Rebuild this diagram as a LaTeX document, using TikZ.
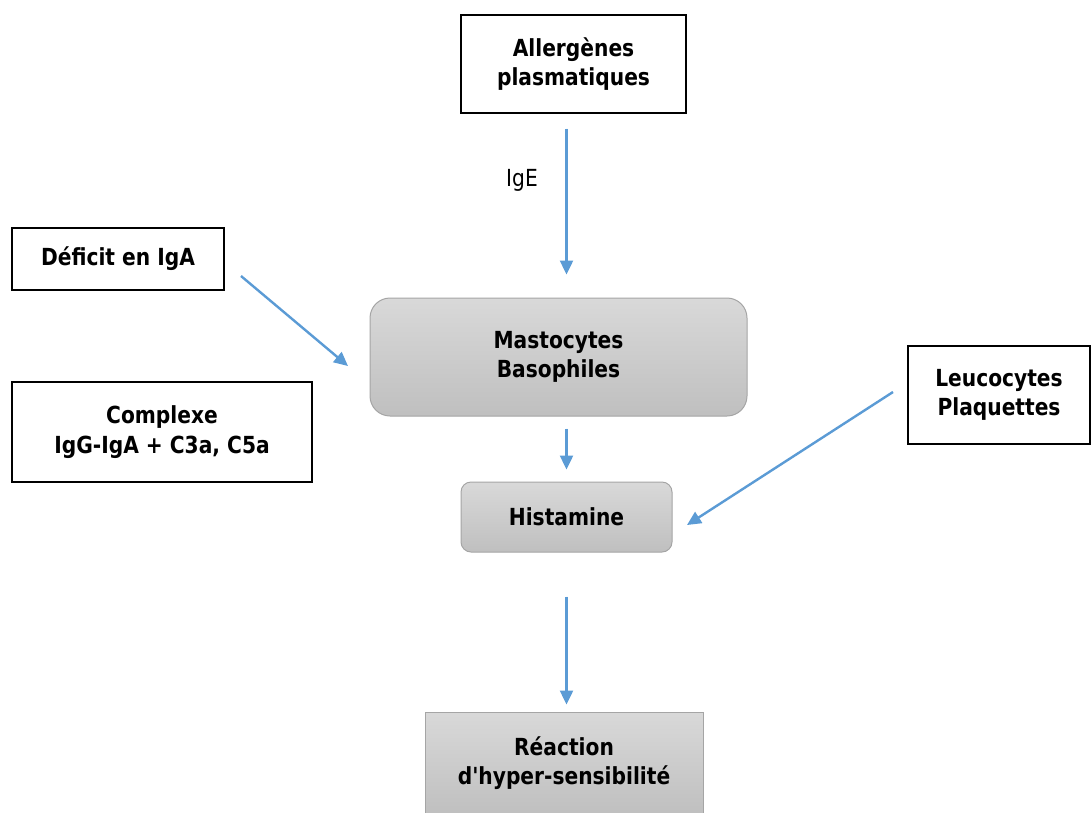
\documentclass[tikz,border=0pt]{standalone}
\usepackage{fontspec}
\setmainfont{DejaVu Sans}[FakeStretch=0.86,Ligatures=TeXOff]
\usetikzlibrary{arrows.meta,positioning,calc}
\definecolor{flowblue}{RGB}{91,155,213}
\definecolor{cellgray}{RGB}{165,165,165}

\begin{document}
\begin{tikzpicture}[x=1pt,y=-1pt,>={Triangle[length=14pt,width=13pt]},
  font=\fontsize{23.5}{29.5}\selectfont\bfseries,
  plainbox/.style={draw,line width=1.3pt,align=center,inner sep=0pt},
  cellbox/.style={draw=cellgray,line width=1pt,top color=gray!30,bottom color=gray!50,align=center,inner sep=0pt},
  flow/.style={->,draw=flowblue,fill=flowblue,line width=2.4pt}]
\useasboundingbox (0,0) rectangle (1091,812);
\clip (0,0) rectangle (1091,812);
% boxes
\node[plainbox,minimum width=225,minimum height=98] (allerg) at (573.5,64) {Allergènes\\plasmatiques};
\node[font=\fontsize{23.5}{29.5}\selectfont] (ige) at (522,180) {IgE};
\node[plainbox,minimum width=212,minimum height=62] (deficit) at (118,259) {Déficit en IgA};
\node[plainbox,minimum width=300,minimum height=100] (complexe) at (162,432) {Complexe\\IgG-IgA + C3a, C5a};
\node[cellbox,rounded corners=20pt,minimum width=377,minimum height=118] (masto) at (558.5,357) {Mastocytes\\Basophiles};
\node[cellbox,rounded corners=10pt,minimum width=211,minimum height=70] (hist) at (566.5,517) {Histamine};
\node[plainbox,minimum width=182,minimum height=98] (leuco) at (999,395) {Leucocytes\\Plaquettes};
\node[cellbox,minimum width=278,minimum height=102] (reaction) at (564,763) {Réaction\\d'hyper-sensibilité};
% free arrow ends
\coordinate (deficit-out) at (241,276);
\coordinate (masto-in) at (348,366);
\coordinate (leuco-out) at (893,392);
\coordinate (hist-in) at (687,525);
% arrows
\draw[flow,shorten <=15pt,shorten >=23pt] (allerg.south -| hist.north) -- (masto.north -| hist.north);
\draw[flow,shorten <=12pt,shorten >=12pt] (masto.south -| hist.north) -- (hist.north);
\draw[flow,shorten <=44pt,shorten >=7pt] (hist.south) -- (reaction.north -| hist.south);
\draw[flow] (deficit-out) -- (masto-in);
\draw[flow] (leuco-out) -- (hist-in);
\end{tikzpicture}
\end{document}
